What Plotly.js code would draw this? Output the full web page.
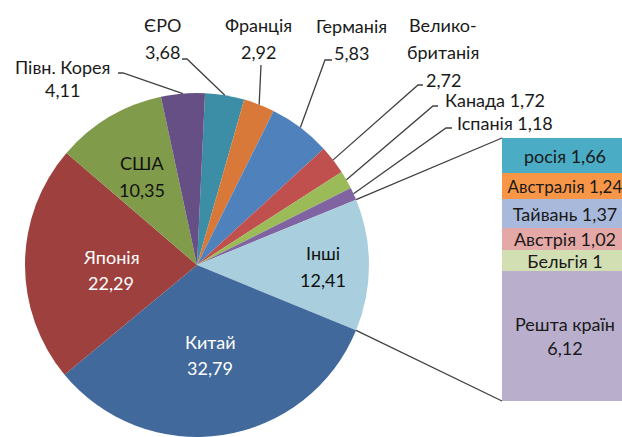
<!DOCTYPE html>
<html><head><meta charset="utf-8">
<script src="https://cdn.plot.ly/plotly-3.0.1.min.js"></script>
<style>html,body{margin:0;padding:0;overflow:hidden;background:#fff}</style>
</head><body><div id="chart" style="width:622px;height:437px"></div>
<script>
// ---- data ----
const pieLabels = ['ЄРО','Франція','Германія','Велико-\nбританія','Канада','Іспанія','Інші','Китай','Японія','США','Півн. Корея'];
const pieValues = [3.68, 2.92, 5.83, 2.72, 1.72, 1.18, 12.41, 32.79, 22.29, 10.35, 4.11];
const pieColors = ['#3B8EA5','#D8793A','#4F81BD','#C0504D','#9BBB59','#8064A2','#A9CEDD','#41699B','#9E403D','#809B4A','#654F85'];
const otherIndex = 6;
const barLabels = ['Решта країн','Бельгія','Австрія','Тайвань','Австралія','росія'];
const barValues = [6.12, 1, 1.02, 1.37, 1.24, 1.66];
const barColors = ['#B9AECC','#D1DFB2','#E4A9A7','#A8B9DC','#F79646','#4BACC6'];

// ---- layout constants ----
const W = 622, H = 437;
const cx = 197, cy = 265, R = 172;
const barDomX = [502 / W, 1], barDomY = [36 / H, 299 / H];
const barPxWidth = 126;
const FONT = 'Lato, "Open Sans", sans-serif';
const fmt = v => String(v).replace('.', ',');
const total = pieValues.reduce((a, b) => a + b, 0);
const cumBefore = i => pieValues.slice(0, i).reduce((a, b) => a + b, 0);
const rotation = 90 - 360 * (cumBefore(otherIndex) + pieValues[otherIndex] / 2) / total;
const angAt = frac => (rotation + 360 * frac / total) * Math.PI / 180;
const edge = a => [cx + R * Math.sin(a), cy - R * Math.cos(a)];
const P = (x, y) => (x / W) + ',' + (1 - y / H);

const barTotal = barValues.reduce((a, b) => a + b, 0);
const barRangeMax = -0.5 + (W * (barDomX[1] - barDomX[0])) / barPxWidth;
const barFont = [18, 18, 18, 18, 17, 18];

const traces = [{
  type: 'pie', values: pieValues, labels: pieLabels.map(s => s.replace('\n', '')),
  marker: {colors: pieColors, line: {width: 0}},
  sort: false, direction: 'clockwise', rotation: rotation,
  textinfo: 'none', hoverinfo: 'label+value', showlegend: false,
  domain: {x: [(cx - R) / W, (cx + R) / W], y: [1 - (cy + R) / H, 1 - (cy - R) / H]}
}];
barLabels.forEach((lab, k) => {
  traces.push({
    type: 'bar', x: [0], y: [barValues[k]], width: 1,
    marker: {color: barColors[k], line: {width: 0}},
    text: [lab + (lab === 'Решта країн' ? '<br>' : ' ') + fmt(barValues[k])],
    textposition: 'inside', insidetextanchor: 'middle', textangle: 0,
    constraintext: 'none',
    insidetextfont: {family: FONT, size: barFont[k], color: '#1a1a1a'},
    showlegend: false, hoverinfo: 'text', xaxis: 'x', yaxis: 'y'
  });
});

// ---- labels ----
const ann = [];
const addLines = (lines, x, ys, color) => lines.forEach((t, j) => ann.push({
  xref: 'paper', yref: 'paper', x: x / W, y: 1 - ys[j] / H, text: t,
  showarrow: false, xanchor: 'center', yanchor: 'middle',
  font: {family: FONT, size: 18, color: color}
}));
const outside = [
  {i: 10, x: 62,  ys: [67, 90],      lead: [[118, 73], [123, 73]], oneLine: false},
  {i: 0,  x: 162, ys: [25, 52],      lead: [[182, 59], [187, 59]], oneLine: false},
  {i: 1,  x: 258, ys: [25, 52],      lead: [[261, 65]], oneLine: false},
  {i: 2,  x: 351, ys: [26, 53],      lead: [[332, 60], [325, 60]], oneLine: false},
  {i: 3,  x: 443, ys: [25, 52, 80],  lead: [[423, 85], [418, 85]], oneLine: false},
  {i: 4,  x: 495, ys: [100],         lead: [[438, 106], [433, 106]], oneLine: true},
  {i: 5,  x: 505, ys: [123],         lead: [[452, 128], [446, 128]], oneLine: true}
];
const inside = [
  {i: 7, x: 210, ys: [342, 368], color: '#ffffff'},
  {i: 8, x: 111, ys: [257, 283], color: '#ffffff'},
  {i: 9, x: 142, ys: [163, 190], color: '#111111'},
  {i: 6, x: 323, ys: [253, 280], color: '#111111'}
];
const shapes = [];
const lineStyle = {color: '#404040', width: 1.3};
outside.forEach(o => {
  const name = pieLabels[o.i], v = fmt(pieValues[o.i]);
  const lines = o.oneLine ? [name + ' ' + v] : name.split('\n').concat([v]);
  addLines(lines, o.x, o.ys, '#1a1a1a');
  const mid = edge(angAt(cumBefore(o.i) + pieValues[o.i] / 2));
  const pts = o.lead.concat([mid]);
  shapes.push({type: 'path', xref: 'paper', yref: 'paper',
    path: 'M' + pts.map(p => P(p[0], p[1])).join('L'), line: lineStyle});
});
inside.forEach(o => addLines([pieLabels[o.i], fmt(pieValues[o.i])], o.x, o.ys, o.color));

// connectors from "Інші" slice to the bar
const bx = W * barDomX[0], bTop = H * (1 - barDomY[1]), bBot = H * (1 - barDomY[0]);
const s0 = edge(angAt(cumBefore(otherIndex)));
const s1 = edge(angAt(cumBefore(otherIndex) + pieValues[otherIndex]));
shapes.push({type: 'path', xref: 'paper', yref: 'paper', path: 'M' + P(s0[0], s0[1]) + 'L' + P(bx, bTop), line: lineStyle});
shapes.push({type: 'path', xref: 'paper', yref: 'paper', path: 'M' + P(s1[0], s1[1]) + 'L' + P(bx, bBot), line: lineStyle});

const layout = {
  width: W, height: H, margin: {l: 0, r: 0, t: 0, b: 0},
  paper_bgcolor: '#ffffff', plot_bgcolor: 'rgba(0,0,0,0)',
  barmode: 'stack', bargap: 0,
  xaxis: {domain: barDomX, range: [-0.5, barRangeMax], visible: false, fixedrange: true},
  yaxis: {domain: barDomY, range: [0, barTotal], visible: false, fixedrange: true},
  annotations: ann, shapes: shapes, showlegend: false
};
Plotly.newPlot('chart', traces, layout, {displayModeBar: false, staticPlot: true});
</script></body></html>
